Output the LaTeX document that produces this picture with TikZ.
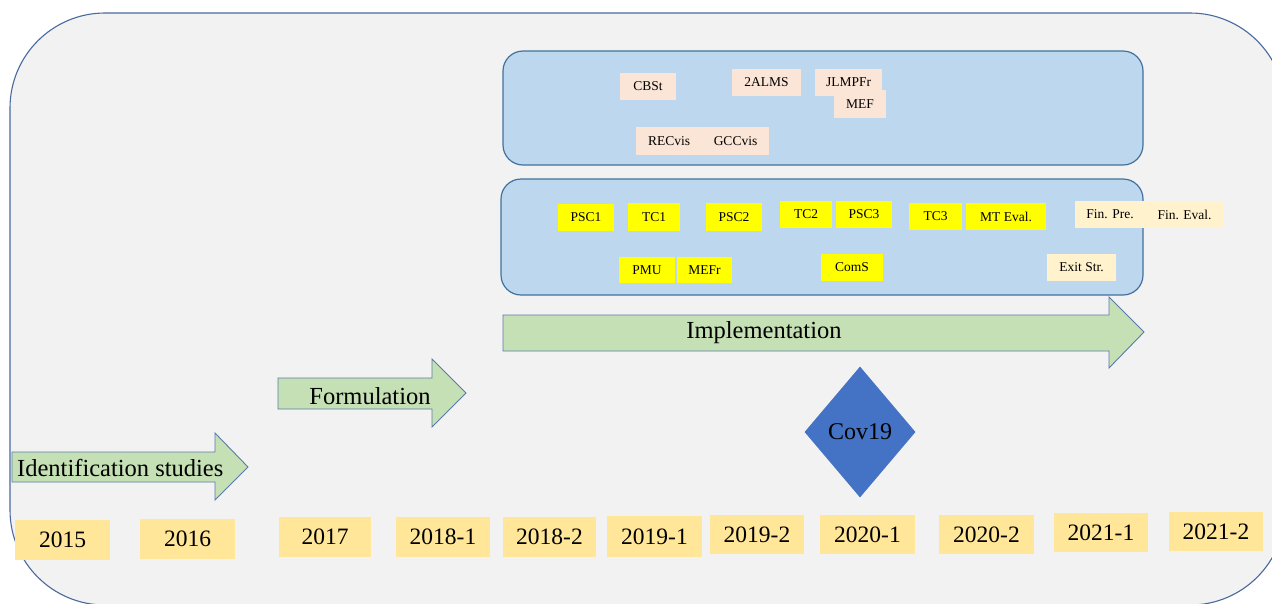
\documentclass[tikz,border=0pt]{standalone}
\usepackage{fontspec}
\setmainfont{Liberation Serif}
\usetikzlibrary{shapes.geometric}
\definecolor{bgc}{HTML}{F2F2F2}
\definecolor{outerc}{HTML}{4A6A9E}
\definecolor{bluefill}{HTML}{BDD7EE}
\definecolor{bluedraw}{HTML}{41719C}
\definecolor{peachc}{HTML}{FBE5D6}
\definecolor{yelc}{HTML}{FFFF00}
\definecolor{creamc}{HTML}{FFF2CC}
\definecolor{yearc}{HTML}{FFE699}
\definecolor{greenc}{HTML}{C5E0B4}
\definecolor{arrowdraw}{HTML}{5A7BAA}
\definecolor{diac}{HTML}{4472C4}
\begin{document}
\begin{tikzpicture}[x=1pt,y=-1pt,
  lbl/.style={rectangle, inner sep=0pt, text=black, font=\fontsize{13.5}{15}\selectfont},
  peach/.style={lbl, fill=peachc},
  yel/.style={lbl, fill=yelc},
  cream/.style={lbl, fill=creamc},
  yearbox/.style={rectangle, inner sep=0pt, fill=yearc, minimum height=40, font=\fontsize{23.5}{26}\selectfont},
  bigtext/.style={inner sep=0pt, font=\fontsize{24.5}{28}\selectfont},
  phasebox/.style={rectangle, draw=bluedraw, line width=1.2pt, fill=bluefill, rounded corners=20pt},
  greenarrow/.style={draw=arrowdraw, line width=0.9pt, fill=greenc, line join=miter}
]
\useasboundingbox (0,0) rectangle (1272,603);
\clip (0,0) rectangle (1272,603);
\fill[white] (0,0) rectangle (1272,603);
% outer container
\draw[fill=bgc, draw=outerc, line width=1.1pt, rounded corners=95pt] (10,13) rectangle (1285,605);

% phase boxes
\node[phasebox, minimum width=640, minimum height=114] (topbox) at (823,108) {};
\node[phasebox, minimum width=642, minimum height=116] (midbox) at (822,237) {};

% top box labels
\node[peach, minimum width=56, minimum height=27] (cbst) at (648,86.5) {CBSt};
\node[peach, minimum width=69, minimum height=27] (alms) at (766.5,82.5) {2ALMS};
\node[peach, minimum width=67, minimum height=27] (jlmpfr) at (848.5,82.5) {JLMPFr};
\node[peach, minimum width=52, minimum height=28] (mef) at (860,104) {MEF};
\node[peach, minimum width=66, minimum height=28] (recvis) at (669,141) {RECvis};
\node[peach, minimum width=67, minimum height=28] (gccvis) at (735.5,141) {GCCvis};

% middle box labels
\node[yel, minimum width=56, minimum height=27] (psc1) at (586,217.5) {PSC1};
\node[yel, minimum width=52, minimum height=28] (tc1) at (654,217) {TC1};
\node[yel, minimum width=56, minimum height=28] (psc2) at (734,217) {PSC2};
\node[yel, minimum width=52, minimum height=27] (tc2) at (806,214.5) {TC2};
\node[yel, minimum width=56, minimum height=27] (psc3) at (864,214.5) {PSC3};
\node[yel, minimum width=53, minimum height=27] (tc3) at (935.5,216.5) {TC3};
\node[yel, minimum width=80, minimum height=27] (mteval) at (1006,216.5) {MT Eval.};
\node[cream, minimum width=70, minimum height=27] (finpre) at (1110,214.5) {Fin. Pre.};
\node[cream, minimum width=79, minimum height=27] (fineval) at (1184.5,214.5) {Fin. Eval.};
\node[yel, minimum width=56, minimum height=26] (pmu) at (647,270) {PMU};
\node[yel, minimum width=55, minimum height=26] (mefr) at (704.5,270) {MEFr};
\node[yel, minimum width=62, minimum height=27] (coms) at (852,267.5) {ComS};
\node[cream, minimum width=69, minimum height=27] (exitstr) at (1081.5,267.5) {Exit Str.};

% phase arrows
\draw[greenarrow] (12,452) -- (215,452) -- (215,433) -- (248,467) -- (215,500) -- (215,482) -- (12,482) -- cycle;
\node[bigtext, anchor=west] (ident) at (17,468) {Identification studies};
\draw[greenarrow] (278,378) -- (432,378) -- (432,359) -- (466,393) -- (432,427) -- (432,409) -- (278,409) -- cycle;
\node[bigtext] (form) at (370,396) {Formulation};
\draw[greenarrow] (503,315) -- (1109,315) -- (1109,297) -- (1144,332) -- (1109,368) -- (1109,351) -- (503,351) -- cycle;
\node[bigtext] (impl) at (764,333) {Implementation};

% Covid diamond
\node[diamond, fill=diac, inner sep=0pt, minimum width=111, minimum height=131, font=\fontsize{24}{28}\selectfont] (cov) at (860,432) {Cov19};

% years
\node[yearbox, minimum width=95] (y2015) at (62.5,540) {2015};
\node[yearbox, minimum width=95] (y2016) at (187.5,539) {2016};
\node[yearbox, minimum width=92] (y2017) at (325,537) {2017};
\node[yearbox, minimum width=94] (y20181) at (443,537) {2018-1};
\node[yearbox, minimum width=93] (y20182) at (549.5,537) {2018-2};
\node[yearbox, minimum width=95, minimum height=41] (y20191) at (654.5,536.5) {2019-1};
\node[yearbox, minimum width=94, minimum height=39] (y20192) at (757,534.5) {2019-2};
\node[yearbox, minimum width=95, minimum height=39] (y20201) at (867.5,534.5) {2020-1};
\node[yearbox, minimum width=95, minimum height=39] (y20202) at (986.5,534.5) {2020-2};
\node[yearbox, minimum width=94, minimum height=39] (y20211) at (1101,532.5) {2021-1};
\node[yearbox, minimum width=94, minimum height=39] (y20212) at (1216,531.5) {2021-2};
\end{tikzpicture}
\end{document}
